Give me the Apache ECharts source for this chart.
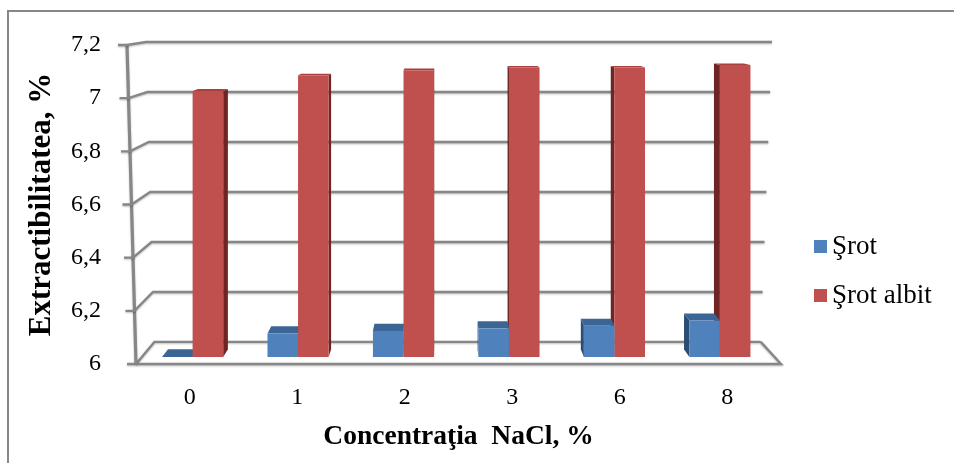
<!DOCTYPE html>
<html><head><meta charset="utf-8">
<script src="https://cdn.jsdelivr.net/npm/echarts@6/dist/echarts.min.js"></script>
<style>html,body{margin:0;padding:0;background:#fff}#c{width:954px;height:463px}</style>
</head><body><div id="c"></div>
<script>
const categories = ['0', '1', '2', '3', '6', '8'];
const srot = [6.00, 6.09, 6.10, 6.11, 6.12, 6.14];
const srotAlbit = [7.02, 7.08, 7.10, 7.11, 7.11, 7.12];
const yTicks = [6, 6.2, 6.4, 6.6, 6.8, 7, 7.2];
const seriesNames = ['Şrot', 'Şrot albit'];
const yMin = 6, yMax = 7.2, yStep = 0.2;

const FONT = 'Liberation Serif';
const GRAY = '#878787';
const VP = [443, -4];          // vanishing point of the pseudo-3D view
const S_BACK = 0.94, S_BAR_F = 0.981, S_BAR_B = 0.96;
const COLORS = [
  {front: '#4F81BD', top: '#3B6595', side: '#2B4C74'},
  {front: '#C0504D', top: '#A8413E', side: '#6E2523'}
];

function proj(p, s) { return [VP[0] + (p[0] - VP[0]) * s, VP[1] + (p[1] - VP[1]) * s]; }

const chart = echarts.init(document.getElementById('c'), null, {renderer: 'canvas'});

function wallRender(params, api) {
  const cs = params.coordSys;
  const v = api.value(0);
  const y = api.coord([0, v])[1];
  const t = (cs.y + cs.height - y) / cs.height;
  const xl = cs.x - 9 * t, xr = cs.x + cs.width + 12 * t;
  const FL = [xl, y], FR = [xr, y];
  const BL = proj(FL, S_BACK), BR = proj(FR, S_BACK);
  const style = {fill: null, stroke: GRAY, lineWidth: 2.4, shadowBlur: 2, shadowColor: 'rgba(0,0,0,0.25)', shadowOffsetY: 1};
  const children = [
    {type: 'polyline', shape: {points: [[xl - 9, y], FL, BL, BR]}, style: style, silent: true}
  ];
  if (params.dataIndex === 0) {
    children.push({type: 'polyline', shape: {points: [FL, FR, BR]}, style: style, silent: true});
    children.push({type: 'line', shape: {x1: cs.x - 9, y1: cs.y, x2: cs.x, y2: cs.y + cs.height},
      style: {stroke: GRAY, lineWidth: 3.2, shadowBlur: 2, shadowColor: 'rgba(0,0,0,0.25)'}, silent: true});
  }
  return {type: 'group', children: children};
}

function barRender(si) {
  return function (params, api) {
    const idx = api.value(0), v = api.value(1);
    const c = api.coord([idx, v]);
    const b = api.coord([idx, yMin]);
    const band = api.size([1, 0])[0];
    const w = band * 0.29;
    const x0 = si === 0 ? c[0] - w - 2 : c[0] - 2;
    const x1 = x0 + w;
    const yt = c[1], yb = b[1];
    const col = COLORS[si];
    const leftOfVP = c[0] < VP[0];
    const base = (leftOfVP ? (si === 0 ? 10 : 20) : (si === 0 ? 20 : 10));
    const ch = [];
    const sx = leftOfVP ? x1 : x0;
    ch.push({type: 'polygon', z2: base,
      shape: {points: [proj([sx, yb], S_BAR_F), proj([sx, yt], S_BAR_F), proj([sx, yt], S_BAR_B), proj([sx, yb], S_BAR_B)]},
      style: {fill: col.side}});
    ch.push({type: 'polygon', z2: base + 1,
      shape: {points: [proj([x0, yt], S_BAR_F), proj([x1, yt], S_BAR_F), proj([x1, yt], S_BAR_B), proj([x0, yt], S_BAR_B)]},
      style: {fill: col.top}});
    ch.push({type: 'polygon', z2: base + 2,
      shape: {points: [proj([x0, yb], S_BAR_F), proj([x1, yb], S_BAR_F), proj([x1, yt], S_BAR_F), proj([x0, yt], S_BAR_F)]},
      style: {fill: col.front}});
    return {type: 'group', children: ch};
  };
}

const option = {
  animation: false,
  backgroundColor: '#fff',
  textStyle: {fontFamily: FONT},
  grid: {left: 136, right: 173, top: 45, bottom: 99, containLabel: false},
  legend: {
    orient: 'vertical', left: 809, top: 228, itemGap: 22, itemWidth: 13, itemHeight: 13,
    icon: 'rect', data: seriesNames,
    textStyle: {fontFamily: FONT, fontSize: 27, color: '#000'}
  },
  xAxis: {
    type: 'category', data: categories,
    axisLine: {show: false}, axisTick: {show: false},
    axisLabel: {fontFamily: FONT, fontSize: 24, color: '#000', margin: 22},
    name: 'Concentraţia  NaCl, %', nameLocation: 'middle', nameGap: 59,
    nameTextStyle: {fontFamily: FONT, fontSize: 27.5, fontWeight: 'bold', color: '#000'}
  },
  yAxis: {
    type: 'value', min: yMin, max: yMax, interval: yStep,
    axisLine: {show: false}, axisTick: {show: false}, splitLine: {show: false},
    axisLabel: {fontFamily: FONT, fontSize: 24, color: '#000', margin: 35,
      formatter: function (v) { return String(+v.toFixed(1)).replace('.', ','); }},
    name: 'Extractibilitatea, %', nameLocation: 'middle', nameGap: 79, nameRotate: 90,
    nameTextStyle: {fontFamily: FONT, fontSize: 31, fontWeight: 'bold', color: '#000'}
  },
  graphic: [{type: 'rect', shape: {x: 8, y: 11, width: 1100, height: 600}, style: {fill: 'none', stroke: GRAY, lineWidth: 2}, silent: true, z: -1}],
  series: [
    {type: 'custom', name: 'walls', renderItem: wallRender, data: yTicks.map(v => [v]), encode: {y: 0}, silent: true, z: 1},
    {type: 'custom', name: seriesNames[0], renderItem: barRender(0), itemStyle: {color: COLORS[0].front},
      data: srot.map((v, i) => [i, v]), encode: {x: 0, y: 1}, z: 2},
    {type: 'custom', name: seriesNames[1], renderItem: barRender(1), itemStyle: {color: COLORS[1].front},
      data: srotAlbit.map((v, i) => [i, v]), encode: {x: 0, y: 1}, z: 2}
  ]
};
chart.setOption(option);
</script>
</body></html>
